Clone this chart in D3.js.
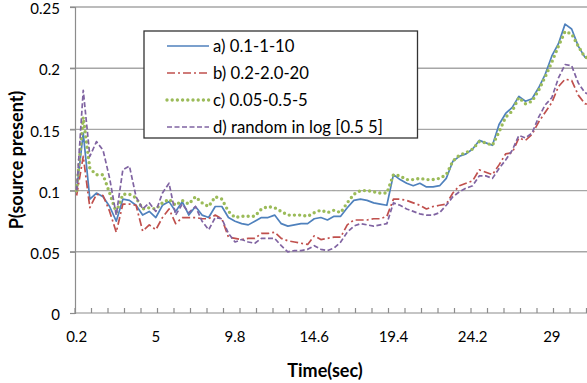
<!DOCTYPE html>
<html><head><meta charset="utf-8">
<script src="https://cdn.jsdelivr.net/npm/d3@7"></script>
<style>
html,body{margin:0;padding:0;background:#fff;}
svg{display:block;font-family:Lato,"Open Sans",sans-serif;}
</style></head>
<body>
<svg id="chart" width="587" height="383"></svg>
<script>
// ---- data ----
const times = [0.2,0.6,1,1.4,1.8,2.2,2.6,3,3.4,3.8,
  4.2,4.6,5,5.4,5.8,6.2,6.6,7,7.4,7.8,
  8.2,8.6,9,9.4,9.8,10.2,10.6,11,11.4,11.8,
  12.2,12.6,13,13.4,13.8,14.2,14.6,15,15.4,15.8,
  16.2,16.6,17,17.4,17.8,18.2,18.6,19,19.4,19.8,
  20.2,20.6,21,21.4,21.8,22.2,22.6,23,23.4,23.8,
  24.2,24.6,25,25.4,25.8,26.2,26.6,27,27.4,27.8,
  28.2,28.6,29,29.4,29.8,30.2,30.6,31,31.4];

const seriesNames = ["a) 0.1-1-10","b) 0.2-2.0-20","c) 0.05-0.5-5","d) random in log [0.5 5]"];

const seriesA = [0.100,0.147,0.093,0.098,0.095,0.087,0.075,0.093,0.092,0.088,
  0.080,0.083,0.078,0.088,0.091,0.083,0.091,0.080,0.087,0.080,
  0.078,0.087,0.087,0.078,0.075,0.073,0.072,0.075,0.078,0.078,
  0.080,0.073,0.071,0.072,0.073,0.073,0.077,0.078,0.076,0.079,
  0.079,0.086,0.092,0.093,0.092,0.090,0.089,0.088,0.113,0.109,
  0.106,0.104,0.106,0.103,0.103,0.104,0.110,0.124,0.128,0.130,
  0.134,0.141,0.139,0.137,0.154,0.163,0.168,0.177,0.173,0.175,
  0.184,0.195,0.210,0.220,0.236,0.232,0.218,0.209,0.207];

const seriesB = [0.096,0.128,0.086,0.097,0.096,0.083,0.066,0.089,0.089,0.088,
  0.067,0.072,0.068,0.078,0.085,0.073,0.078,0.078,0.078,0.077,
  0.077,0.080,0.077,0.062,0.061,0.060,0.061,0.061,0.065,0.065,
  0.066,0.061,0.059,0.058,0.057,0.056,0.063,0.060,0.061,0.062,
  0.062,0.072,0.076,0.076,0.076,0.077,0.077,0.079,0.093,0.093,
  0.092,0.090,0.088,0.085,0.087,0.088,0.089,0.098,0.104,0.106,
  0.108,0.117,0.115,0.113,0.121,0.130,0.131,0.143,0.141,0.146,
  0.156,0.164,0.172,0.185,0.191,0.190,0.178,0.171,0.170];

const seriesC = [0.100,0.160,0.118,0.113,0.113,0.098,0.082,0.097,0.097,0.094,
  0.085,0.086,0.085,0.090,0.093,0.088,0.092,0.089,0.095,0.090,
  0.087,0.095,0.093,0.083,0.078,0.079,0.079,0.079,0.085,0.087,
  0.086,0.083,0.080,0.080,0.080,0.079,0.082,0.084,0.082,0.084,
  0.082,0.090,0.097,0.100,0.100,0.099,0.098,0.098,0.113,0.112,
  0.109,0.109,0.110,0.109,0.109,0.110,0.113,0.124,0.129,0.131,
  0.134,0.140,0.139,0.137,0.148,0.160,0.165,0.176,0.171,0.173,
  0.182,0.193,0.205,0.218,0.230,0.228,0.218,0.209,0.208];

const seriesD = [0.100,0.182,0.128,0.140,0.133,0.110,0.080,0.117,0.120,0.095,
  0.085,0.090,0.083,0.098,0.106,0.080,0.089,0.082,0.087,0.075,
  0.068,0.078,0.077,0.065,0.058,0.060,0.058,0.057,0.061,0.061,
  0.061,0.055,0.050,0.051,0.051,0.052,0.055,0.052,0.051,0.053,
  0.058,0.066,0.071,0.073,0.072,0.071,0.072,0.073,0.090,0.088,
  0.085,0.083,0.081,0.080,0.080,0.082,0.088,0.095,0.099,0.102,
  0.104,0.112,0.112,0.110,0.118,0.125,0.133,0.145,0.143,0.147,
  0.160,0.170,0.176,0.192,0.203,0.202,0.188,0.180,0.178];

const xTickLabels = [0.2, 5, 9.8, 14.6, 19.4, 24.2, 29];
const yTicks = [0, 0.05, 0.1, 0.15, 0.2, 0.25];
const xTitle = "Time(sec)";
const yTitle = "P(source present)";

// ---- layout / styles ----
const L = 75, R = 587, T = 7, B = 313, pxPerSec = 16.5;
const styles = [
  {color:"#4F81BD", width:1.7, dash:null, cap:"butt"},
  {color:"#C0504D", width:1.7, dash:"8,3,2,3", cap:"butt"},
  {color:"#9BBB59", width:3.4, dash:"0,5.2", cap:"round"},
  {color:"#8064A2", width:1.7, dash:"5,2.5", cap:"butt"}
];
const allSeries = [seriesA, seriesB, seriesC, seriesD];

const svg = d3.select("#chart");
const x = d3.scaleLinear().domain([0.1, 0.1 + (R - L) / pxPerSec]).range([L, R]);
const y = d3.scaleLinear().domain([0, 0.25]).range([B, T]);

// gridlines
svg.append("g").selectAll("line").data(yTicks.filter(d => d > 0)).join("line")
  .attr("x1", L - 5).attr("x2", R).attr("y1", d => y(d)).attr("y2", d => y(d))
  .attr("stroke", "#a6a6a6").attr("stroke-width", 1.4);

// y axis
const yAxis = d3.axisLeft(y).tickValues(yTicks).tickSize(5).tickPadding(10)
  .tickFormat(d => d === 0 ? "0" : String(+d.toFixed(2)));
const gy = svg.append("g").attr("transform", `translate(${L},0)`).call(yAxis);
gy.select(".domain").attr("stroke", "#8c8c8c").attr("stroke-width", 1.2);
gy.selectAll(".tick line").attr("stroke", "#8c8c8c").attr("stroke-width", 1.2);
gy.selectAll(".tick text").attr("font-size", 15).attr("fill", "#000").attr("dy", "0.45em")
  .attr("font-family", "Lato,'Open Sans',sans-serif");

// x axis (category-style tick marks every second, labels every 4.8 s)
const tickMarks = d3.range(0.1, x.domain()[1], 1);
svg.append("line").attr("x1", L).attr("x2", R).attr("y1", B).attr("y2", B)
  .attr("stroke", "#8c8c8c").attr("stroke-width", 1.2);
svg.append("g").selectAll("line").data(tickMarks).join("line")
  .attr("x1", d => x(d)).attr("x2", d => x(d)).attr("y1", B).attr("y2", B - 5)
  .attr("stroke", "#8c8c8c").attr("stroke-width", 1.2);
svg.append("g").selectAll("text").data(xTickLabels).join("text")
  .attr("x", d => x(d)).attr("y", 342).attr("text-anchor", "middle")
  .attr("font-size", 15).attr("fill", "#000").text(d => String(d));

// clip
svg.append("clipPath").attr("id", "clip").append("rect")
  .attr("x", L).attr("y", 0).attr("width", R - L).attr("height", B);

const line = d3.line().x((d, i) => x(times[i])).y(d => y(d));
const gl = svg.append("g").attr("clip-path", "url(#clip)");
allSeries.forEach((s, i) => {
  const st = styles[i];
  gl.append("path").datum(s).attr("d", line).attr("fill", "none")
    .attr("stroke", st.color).attr("stroke-width", st.width)
    .attr("stroke-dasharray", st.dash).attr("stroke-linecap", st.cap)
    .attr("stroke-linejoin", "round");
});

// legend
const lg = svg.append("g");
lg.append("rect").attr("x", 144).attr("y", 31).attr("width", 273.5).attr("height", 107)
  .attr("fill", "#fff").attr("stroke", "#333").attr("stroke-width", 1.3);
const rowY = [46, 73, 100, 127];
seriesNames.forEach((name, i) => {
  const st = styles[i];
  lg.append("line").attr("x1", 167).attr("x2", 209).attr("y1", rowY[i]).attr("y2", rowY[i])
    .attr("stroke", st.color).attr("stroke-width", st.width)
    .attr("stroke-dasharray", st.dash).attr("stroke-linecap", st.cap);
  lg.append("text").attr("x", 213).attr("y", rowY[i] + 6).attr("font-size", 16.7)
    .attr("fill", "#000").text(name);
});

// titles
svg.append("text").attr("x", 325).attr("y", 377).attr("text-anchor", "middle")
  .attr("font-size", 18).attr("font-weight", "bold").attr("fill", "#000").text(xTitle);
svg.append("text").attr("transform", "translate(22.5,160) rotate(-90)")
  .attr("text-anchor", "middle").attr("font-size", 18).attr("font-weight", "bold")
  .attr("fill", "#000").text(yTitle);
</script>
</body></html>
